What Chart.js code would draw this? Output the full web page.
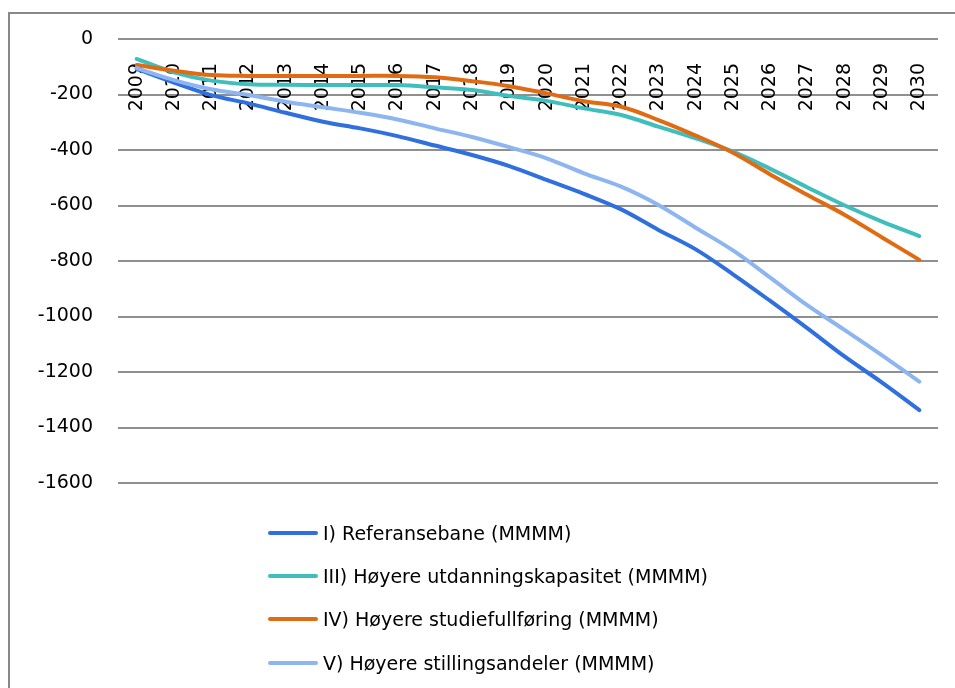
<!DOCTYPE html>
<html>
<head>
<meta charset="utf-8">
<script src="https://cdn.jsdelivr.net/npm/chart.js@4.4.1/dist/chart.umd.min.js"></script>
<style>
    html, body { margin: 0; padding: 0; background: #fff; }
    #wrap { position: relative; width: 955px; height: 688px; overflow: hidden; }
    #frame { position: absolute; left: 8px; top: 12px; width: 990px; height: 720px; border: 2px solid #888; }
    #chart { position: absolute; left: 0; top: 0; }
    #legend { position: absolute; left: 268px; top: 511px; font-family: "DejaVu Sans", sans-serif; font-size: 19px; color: #000; }
    .row { display: flex; align-items: center; height: 43.3px; white-space: nowrap; }
    .swatch { width: 50px; height: 4px; border-radius: 2px; margin-right: 5px; }
</style>
</head>
<body>
<div id="wrap">
    <div id="frame"></div>
    <canvas id="chart" width="955" height="688"></canvas>
    <div id="legend"></div>
</div>
<script>
// Years on the category axis
const years = ['2009', '2010', '2011', '2012', '2013', '2014', '2015', '2016', '2017', '2018', '2019',
               '2020', '2021', '2022', '2023', '2024', '2025', '2026', '2027', '2028', '2029', '2030'];

// Series values
const referansebane = [-108, -157, -202, -232, -266, -298, -322, -350, -384, -418, -458,
                       -508, -558, -614, -688, -758, -848, -944, -1043, -1145, -1238, -1337];
const utdanningskapasitet = [-72, -120, -150, -163, -165, -166, -166, -166, -174, -184, -205,
                             -223, -250, -274, -316, -358, -406, -468, -535, -600, -658, -710];
const studiefullforing = [-94, -114, -130, -133, -133, -133, -133, -133, -138, -152, -170,
                          -196, -224, -244, -292, -348, -410, -488, -562, -634, -715, -796];
const stillingsandeler = [-105, -148, -181, -202, -226, -246, -266, -290, -322, -353, -390,
                          -430, -484, -532, -598, -680, -762, -860, -960, -1049, -1140, -1235];

const seriesLabels = [
    'I) Referansebane (MMMM)',
    'III) Høyere utdanningskapasitet (MMMM)',
    'IV) Høyere studiefullføring (MMMM)',
    'V) Høyere stillingsandeler (MMMM)'
];
const seriesColors = ['#2f6fde', '#40bdbd', '#e06b12', '#8db5f0'];

document.addEventListener('DOMContentLoaded', () => {
    const ctx = document.getElementById('chart').getContext('2d');
    const font = { family: 'DejaVu Sans', size: 19 };

    const seriesData = [referansebane, utdanningskapasitet, studiefullforing, stillingsandeler];
    const datasets = seriesData.map((values, i) => ({
        label: seriesLabels[i],
        data: values,
        borderColor: seriesColors[i],
        backgroundColor: seriesColors[i],
        borderWidth: 4,
        borderCapStyle: 'round',
        tension: 0.35,
        fill: false,
        pointRadius: 0,
        order: 3 - i // later series on top, like the original
    }));

    const chart = new Chart(ctx, {
        type: 'line',
        data: { labels: years, datasets: datasets },
        options: {
            responsive: false,
            animation: false,
            layout: { padding: { left: 18, right: 17, top: 39, bottom: 205 } },
            plugins: {
                legend: { display: false },
                tooltip: { enabled: false }
            },
            scales: {
                x: {
                    position: { y: 0 },
                    offset: true,
                    grid: { display: false, drawTicks: false },
                    border: { display: false },
                    ticks: {
                        autoSkip: false,
                        minRotation: 90,
                        maxRotation: 90,
                        padding: 24,
                        color: '#000',
                        font: font
                    },
                    // rotated labels should not push the plot area inwards
                    afterFit: (scale) => { scale.paddingLeft = 0; scale.paddingRight = 0; }
                },
                y: {
                    min: -1600,
                    max: 0,
                    grid: { color: '#8f8f8f', lineWidth: 2, drawTicks: false },
                    border: { display: false },
                    ticks: {
                        stepSize: 200,
                        padding: 25,
                        color: '#000',
                        font: font,
                        callback: (value) => String(value) // no thousands separator
                    },
                    afterFit: (scale) => { scale.width = 100; }
                }
            }
        }
    });

    // Legend as a single column, built from the datasets
    const legend = document.getElementById('legend');
    chart.data.datasets.forEach(ds => {
        const row = document.createElement('div');
        row.className = 'row';
        const swatch = document.createElement('span');
        swatch.className = 'swatch';
        swatch.style.background = ds.borderColor;
        const text = document.createElement('span');
        text.textContent = ds.label;
        row.appendChild(swatch);
        row.appendChild(text);
        legend.appendChild(row);
    });
});
</script>
</body>
</html>
